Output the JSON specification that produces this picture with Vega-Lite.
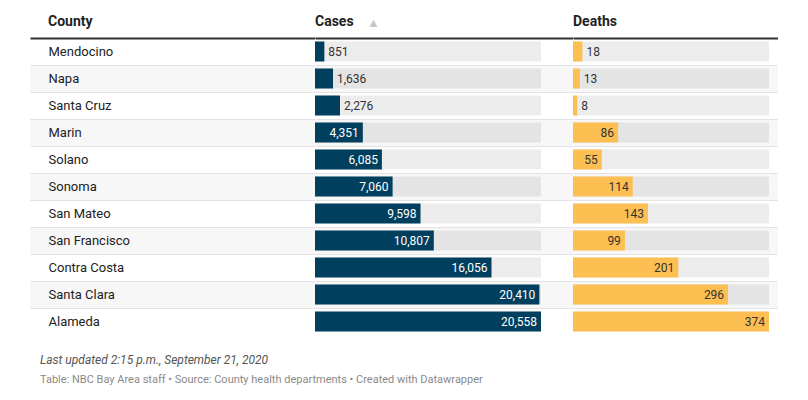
{
  "$schema": "https://vega.github.io/schema/vega-lite/v6.json",
  "padding": {"left": 30, "top": 15, "right": 0, "bottom": 0},
  "background": "white",
  "spacing": 0,
  "config": {"view": {"stroke": null}, "font": "Roboto"},
  "title": {
    "text": "Last updated 2:15 p.m., September 21, 2020",
    "subtitle": "Table: NBC Bay Area staff • Source: County health departments • Created with Datawrapper",
    "orient": "bottom", "anchor": "start", "dx": 10, "offset": 20,
    "font": "Roboto", "fontSize": 12, "fontStyle": "italic", "fontWeight": "normal", "color": "#555555",
    "subtitleFont": "Roboto", "subtitleFontSize": 11, "subtitleColor": "#8a8a8a", "subtitlePadding": 7
  },
  "datasets": {
    "counties": [
      {"County": "Mendocino", "Cases": 851, "Deaths": 18},
      {"County": "Napa", "Cases": 1636, "Deaths": 13},
      {"County": "Santa Cruz", "Cases": 2276, "Deaths": 8},
      {"County": "Marin", "Cases": 4351, "Deaths": 86},
      {"County": "Solano", "Cases": 6085, "Deaths": 55},
      {"County": "Sonoma", "Cases": 7060, "Deaths": 114},
      {"County": "San Mateo", "Cases": 9598, "Deaths": 143},
      {"County": "San Francisco", "Cases": 10807, "Deaths": 99},
      {"County": "Contra Costa", "Cases": 16056, "Deaths": 201},
      {"County": "Santa Clara", "Cases": 20410, "Deaths": 296},
      {"County": "Alameda", "Cases": 20558, "Deaths": 374}
    ]
  },
  "data": {"name": "counties"},
  "hconcat": [
    {
      "width": 285, "height": 297,
      "title": {"text": "County", "anchor": "start", "dx": 18, "fontSize": 14, "fontWeight": "bold", "color": "#222222", "font": "Roboto", "offset": -13},
      "mark": {"type": "rect"},
      "encoding": {
        "y": {"field": "County", "type": "nominal", "sort": null, "title": null,
          "scale": {"domain": ["Mendocino","Napa","Santa Cruz","Marin","Solano","Sonoma","San Mateo","San Francisco","Contra Costa","Santa Clara","Alameda"], "paddingInner": 0, "paddingOuter": 0},
          "axis": {"orient": "left", "domain": false, "ticks": false, "labelAlign": "left", "labelPadding": -18, "labelFontSize": 13, "labelColor": "#222222", "labelFont": "Roboto", "labelLimit": 0, "grid": true, "gridColor": "#e3e3e3", "bandPosition": 0, "zindex": 1}},
        "x": {"datum": 0, "type": "quantitative", "scale": {"domain": [0, 1], "nice": false, "zero": false},
          "axis": {"orient": "top", "domain": true, "domainColor": "#333333", "domainWidth": 2, "ticks": false, "labels": false, "grid": false, "title": "▲", "titleOpacity": 0, "titleFontSize": 13, "titleFontWeight": "normal", "titleX": 220, "titleY": -16, "titleAlign": "center", "titleBaseline": "middle", "titleAngle": 0, "zindex": 2}},
        "x2": {"datum": 1},
        "fill": {"field": "County", "type": "nominal", "legend": null,
          "scale": {"domain": ["Mendocino","Napa","Santa Cruz","Marin","Solano","Sonoma","San Mateo","San Francisco","Contra Costa","Santa Clara","Alameda"],
            "range": ["#ffffff","#f7f7f7","#ffffff","#f7f7f7","#ffffff","#f7f7f7","#ffffff","#f7f7f7","#ffffff","#f7f7f7","#ffffff"]}}
      }
    },
    {
      "width": 258, "height": 297,
      "title": {"text": "Cases", "anchor": "start", "dx": 0, "fontSize": 14, "fontWeight": "bold", "color": "#222222", "font": "Roboto", "offset": -13},
      "transform": [{"joinaggregate": [{"op": "max", "field": "Cases", "as": "maxCases"}]}],
      "encoding": {
        "y": {"field": "County", "type": "nominal", "sort": null, "title": null,
          "scale": {"domain": ["Mendocino","Napa","Santa Cruz","Marin","Solano","Sonoma","San Mateo","San Francisco","Contra Costa","Santa Clara","Alameda"], "paddingInner": 0, "paddingOuter": 0},
          "axis": {"domain": false, "ticks": false, "labels": false, "grid": true, "gridColor": "#e3e3e3", "bandPosition": 0, "zindex": 1}}
      },
      "layer": [
        {
          "mark": {"type": "rect"},
          "encoding": {
            "x": {"value": 0}, "x2": {"value": "width"},
            "fill": {"field": "County", "type": "nominal", "legend": null,
              "scale": {"domain": ["Mendocino","Napa","Santa Cruz","Marin","Solano","Sonoma","San Mateo","San Francisco","Contra Costa","Santa Clara","Alameda"],
                "range": ["#ffffff","#f7f7f7","#ffffff","#f7f7f7","#ffffff","#f7f7f7","#ffffff","#f7f7f7","#ffffff","#f7f7f7","#ffffff"]}}
          }
        },
        {
          "mark": {"type": "bar", "color": "#000000", "opacity": 0.075, "height": 20},
          "encoding": {
            "x": {"field": "maxCases", "type": "quantitative", "scale": {"domain": [0, 23469], "nice": false},
              "axis": {"orient": "top", "domain": true, "domainColor": "#333333", "domainWidth": 2, "ticks": false, "labels": false, "grid": false, "title": "▲", "titleColor": "#c8c8c8", "titleFontSize": 13, "titleFontWeight": "normal", "titleX": 58, "titleY": -16, "titleAlign": "center", "titleBaseline": "middle", "titleAngle": 0, "zindex": 2}}
          }
        },
        {
          "mark": {"type": "bar", "color": "#013f5e", "height": 20},
          "encoding": {"x": {"field": "Cases", "type": "quantitative"}}
        },
        {
          "transform": [{"filter": "datum.Cases >= 3000"}],
          "mark": {"type": "text", "align": "right", "dx": -4, "color": "#ffffff", "fontSize": 12, "font": "Roboto"},
          "encoding": {"x": {"field": "Cases", "type": "quantitative"}, "text": {"field": "Cases", "type": "quantitative", "format": ","}}
        },
        {
          "transform": [{"filter": "datum.Cases < 3000"}],
          "mark": {"type": "text", "align": "left", "dx": 4, "color": "#333333", "fontSize": 12, "font": "Roboto"},
          "encoding": {"x": {"field": "Cases", "type": "quantitative"}, "text": {"field": "Cases", "type": "quantitative", "format": ","}}
        }
      ]
    },
    {
      "width": 205, "height": 297,
      "title": {"text": "Deaths", "anchor": "start", "dx": 0, "fontSize": 14, "fontWeight": "bold", "color": "#222222", "font": "Roboto", "offset": -13},
      "transform": [{"joinaggregate": [{"op": "max", "field": "Deaths", "as": "maxDeaths"}]}],
      "encoding": {
        "y": {"field": "County", "type": "nominal", "sort": null, "title": null,
          "scale": {"domain": ["Mendocino","Napa","Santa Cruz","Marin","Solano","Sonoma","San Mateo","San Francisco","Contra Costa","Santa Clara","Alameda"], "paddingInner": 0, "paddingOuter": 0},
          "axis": {"domain": false, "ticks": false, "labels": false, "grid": true, "gridColor": "#e3e3e3", "bandPosition": 0, "zindex": 1}}
      },
      "layer": [
        {
          "mark": {"type": "rect"},
          "encoding": {
            "x": {"value": 0}, "x2": {"value": "width"},
            "fill": {"field": "County", "type": "nominal", "legend": null,
              "scale": {"domain": ["Mendocino","Napa","Santa Cruz","Marin","Solano","Sonoma","San Mateo","San Francisco","Contra Costa","Santa Clara","Alameda"],
                "range": ["#ffffff","#f7f7f7","#ffffff","#f7f7f7","#ffffff","#f7f7f7","#ffffff","#f7f7f7","#ffffff","#f7f7f7","#ffffff"]}}
          }
        },
        {
          "mark": {"type": "bar", "color": "#000000", "opacity": 0.075, "height": 20},
          "encoding": {
            "x": {"field": "maxDeaths", "type": "quantitative", "scale": {"domain": [0, 391.2], "nice": false},
              "axis": {"orient": "top", "domain": true, "domainColor": "#333333", "domainWidth": 2, "ticks": false, "labels": false, "grid": false, "title": "▲", "titleOpacity": 0, "titleFontSize": 13, "titleFontWeight": "normal", "titleX": 150, "titleY": -16, "titleAlign": "center", "titleBaseline": "middle", "titleAngle": 0, "zindex": 2}}
          }
        },
        {
          "mark": {"type": "bar", "color": "#fdbe52", "height": 20},
          "encoding": {"x": {"field": "Deaths", "type": "quantitative"}}
        },
        {
          "transform": [{"filter": "datum.Deaths >= 50"}],
          "mark": {"type": "text", "align": "right", "dx": -4, "color": "#333333", "fontSize": 12, "font": "Roboto"},
          "encoding": {"x": {"field": "Deaths", "type": "quantitative"}, "text": {"field": "Deaths", "type": "quantitative", "format": ","}}
        },
        {
          "transform": [{"filter": "datum.Deaths < 50"}],
          "mark": {"type": "text", "align": "left", "dx": 4, "color": "#333333", "fontSize": 12, "font": "Roboto"},
          "encoding": {"x": {"field": "Deaths", "type": "quantitative"}, "text": {"field": "Deaths", "type": "quantitative", "format": ","}}
        }
      ]
    }
  ]
}
